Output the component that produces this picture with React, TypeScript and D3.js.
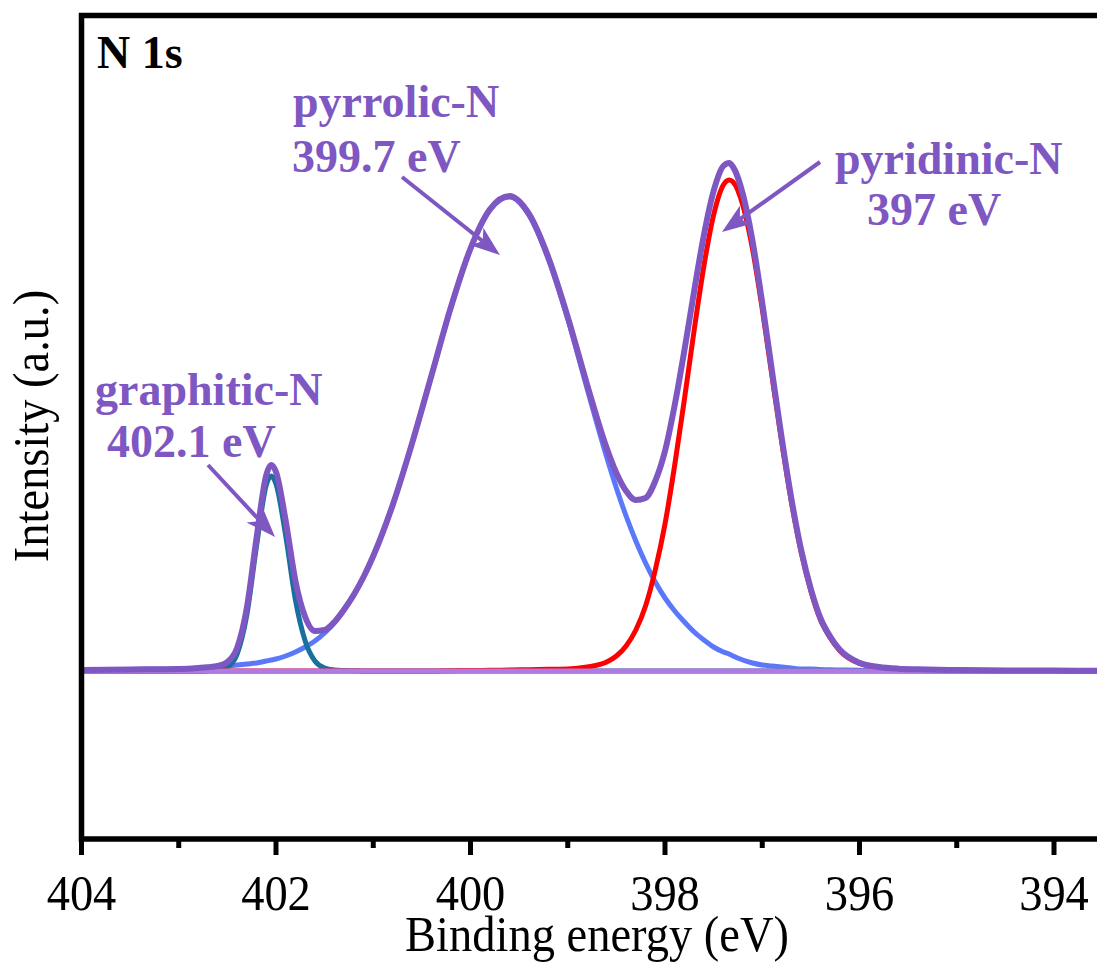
import React from 'react';
import * as d3 from 'd3';

// Binding energy grid (eV)
const energy = [
  404.0, 403.5, 403.0, 402.8, 402.7, 402.6, 402.5, 402.4, 402.3, 402.2, 402.1, 402.05, 402.0,
  401.9, 401.8, 401.7, 401.6, 401.5, 401.4, 401.3, 401.2, 401.1, 401.0, 400.8, 400.6, 400.4,
  400.2, 400.0, 399.8, 399.6, 399.4, 399.2, 399.0, 398.8, 398.6, 398.5, 398.4, 398.3, 398.2,
  398.1, 398.0, 397.9, 397.8, 397.7, 397.6, 397.5, 397.4, 397.34, 397.3, 397.2, 397.1, 397.0,
  396.9, 396.8, 396.7, 396.6, 396.5, 396.4, 396.3, 396.2, 396.0, 395.8, 395.6, 395.4, 395.0,
  394.5, 394.0, 393.5,
];

// Fitted components (a.u.)
const graphiticN = [
  0, 0, 0, 0, 0.3, 1, 4, 17, 56, 125, 186, 195, 187,
  135, 71, 30, 10, 3, 1, 0.5, 0.3, 0, 0, 0, 0, 0,
  0, 0, 0, 0, 0, 0, 0, 0, 0, 0, 0, 0, 0,
  0, 0, 0, 0, 0, 0, 0, 0, 0, 0, 0, 0, 0,
  0, 0, 0, 0, 0, 0, 0, 0, 0, 0, 0, 0, 0,
  0, 0, 0,
];
const pyrrolicN = [
  1, 1.5, 2, 3, 3.5, 4, 5, 6, 7, 8, 10, 11, 12,
  15, 19, 24, 30, 38, 48, 61, 76, 94, 115, 166, 228, 296,
  364, 422, 461, 474, 456, 412, 352, 282, 214, 183, 155, 130, 108,
  89, 73, 60, 49, 39, 31, 24, 19, 17, 15, 11, 8, 6,
  5, 4, 3, 2, 2, 1.5, 1.2, 1, 0.7, 0.5, 0.3, 0.2, 0,
  0, 0, 0,
];
const pyridinicN = [
  0, 0, 0, 0, 0, 0, 0, 0, 0, 0, 0, 0, 0,
  0, 0, 0, 0, 0, 0, 0, 0, 0, 0, 0, 0, 0,
  0.3, 0.5, 0.7, 1, 1.3, 1.7, 2, 4, 9, 15, 25, 41, 65,
  101, 147, 206, 272, 341, 405, 456, 486, 491, 489, 466, 422, 362,
  295, 229, 169, 119, 80, 51, 33, 20, 7.5, 3.5, 2, 1.5, 1,
  0.6, 0.4, 0.3,
];
const envelope = [
  1, 1.5, 2, 3, 3.8, 5, 9, 23, 63, 133, 196, 206, 199,
  150, 90, 54, 40, 41, 49, 61.5, 76.3, 94, 115, 166, 228, 296,
  364.3, 422.5, 461.7, 475, 457.3, 413.7, 354, 286, 223, 198, 180, 171, 173,
  190, 220, 266, 321, 380, 436, 480, 505, 508, 504, 477, 430, 368,
  300, 233, 172, 121, 82, 52.5, 34.2, 21, 8.2, 4, 2.3, 1.7, 1,
  0.6, 0.4, 0.3,
];
const baselineEnergy = [404.0, 393.5];
const baselineValue = [0, 0];

const xMajorTicks = [404, 402, 400, 398, 396, 394];
const xMinorTicks = [403, 401, 399, 397, 395];

const peakLabels = [
  { lines: ['graphitic-N', '402.1 eV'], e: [403.861, 403.738], v: [266, 214] },
  { lines: ['pyrrolic-N', '399.7 eV'], e: [401.825, 401.835], v: [554, 499] },
  { lines: ['pyridinic-N', '397 eV'], e: [396.252, 395.923], v: [497, 446] },
];
const arrows = [
  { from: [402.699, 206], to: [402.01, 134] },
  { from: [400.704, 494], to: [399.697, 416] },
  { from: [396.406, 509], to: [397.414, 439] },
];

const W = 1097;
const H = 969;
const left = 81.5;
const top = 15.5;
const bottom = 839;
const right = 1102;

const PURPLE = '#7E57C2';
const BASE = '#B07AE0';
const BLUE = '#5B78FA';
const TEAL = '#17709E';
const RED = '#FF0000';
const SERIF = '"Liberation Serif", "Times New Roman", Times, serif';

function T(props: {
  x: number;
  y: number;
  size: number;
  children: React.ReactNode;
  anchor?: string;
  bold?: boolean;
  fill?: string;
  rotate?: number;
  sx?: number;
}) {
  const { x, y, size, children, anchor = 'start', bold = false, fill = '#000', rotate = 0, sx = 1 } = props;
  return (
    <text
      transform={`translate(${x},${y})${rotate ? ` rotate(${rotate})` : ''} scale(${sx},1)`}
      textAnchor={anchor}
      fontFamily={SERIF}
      fontWeight={bold ? 'bold' : 'normal'}
      fontSize={size}
      fill={fill}
    >
      {children}
    </text>
  );
}

export default function App() {
  const x = d3.scaleLinear().domain([404, 393.5]).range([left, left + 10.5 * 97.25]);
  const y = d3.scaleLinear().domain([-168, 655]).range([bottom, top + 0.5]);

  const line = d3
    .line<[number, number]>()
    .x((d) => x(d[0]))
    .y((d) => y(d[1]))
    .curve(d3.curveMonotoneX);

  const series = (vals: number[]) => energy.map((e, i) => [e, vals[i]] as [number, number]);
  const basePts = baselineEnergy.map((e, i) => [e, baselineValue[i]] as [number, number]);

  const arrowHead = (fx: number, fy: number, tx: number, ty: number) => {
    const ang = Math.atan2(ty - fy, tx - fx);
    const L = 30;
    const Wd = 11;
    const notch = 22;
    const ux = Math.cos(ang);
    const uy = Math.sin(ang);
    const px = -uy;
    const py = ux;
    const bx = tx - ux * L;
    const by = ty - uy * L;
    const nx = tx - ux * notch;
    const ny = ty - uy * notch;
    return {
      poly: `${tx},${ty} ${bx + px * Wd},${by + py * Wd} ${nx},${ny} ${bx - px * Wd},${by - py * Wd}`,
      lx: nx,
      ly: ny,
    };
  };

  return (
    <svg
      width={W}
      height={H}
      style={{ position: 'absolute', left: 0, top: 0, display: 'block', background: '#fff' }}
    >
      <defs>
        <clipPath id="plotClip">
          <rect x={left} y={top} width={right - left} height={bottom - top} />
        </clipPath>
      </defs>

      <g clipPath="url(#plotClip)" fill="none" strokeLinejoin="round" strokeLinecap="round">
        <path d={line(series(pyrrolicN)) || ''} stroke={BLUE} strokeWidth={5} />
        <path d={line(series(graphiticN)) || ''} stroke={TEAL} strokeWidth={5} />
        <path d={line(series(pyridinicN)) || ''} stroke={RED} strokeWidth={5} />
        <path d={line(basePts) || ''} stroke={BASE} strokeWidth={5} />
        <path d={line(series(envelope)) || ''} stroke={PURPLE} strokeWidth={6} />
      </g>

      {arrows.map((a, i) => {
        const fx = x(a.from[0]);
        const fy = y(a.from[1]);
        const tx = x(a.to[0]);
        const ty = y(a.to[1]);
        const h = arrowHead(fx, fy, tx, ty);
        return (
          <g key={i}>
            <line x1={fx} y1={fy} x2={h.lx} y2={h.ly} stroke={PURPLE} strokeWidth={4} />
            <polygon points={h.poly} fill={PURPLE} />
          </g>
        );
      })}

      {peakLabels.map((p, i) => (
        <g key={i}>
          {p.lines.map((t, j) => (
            <T key={j} x={x(p.e[j])} y={y(p.v[j])} size={46} bold fill={PURPLE}>
              {t}
            </T>
          ))}
        </g>
      ))}

      <T x={97} y={68} size={46} bold>
        N 1s
      </T>

      <rect
        x={left}
        y={top}
        width={right - left}
        height={bottom - top}
        fill="none"
        stroke="#000"
        strokeWidth={5.5}
      />

      {xMajorTicks.map((t) => (
        <line key={'M' + t} x1={x(t)} x2={x(t)} y1={bottom} y2={bottom + 16} stroke="#000" strokeWidth={5} />
      ))}
      {xMinorTicks.map((t) => (
        <line key={'m' + t} x1={x(t)} x2={x(t)} y1={bottom} y2={bottom + 9} stroke="#000" strokeWidth={5} />
      ))}
      {xMajorTicks.map((t) => (
        <T key={'L' + t} x={x(t)} y={910} size={50} anchor="middle" sx={0.93}>
          {t}
        </T>
      ))}

      <T x={597} y={951} size={50} anchor="middle" sx={0.93}>
        Binding energy (eV)
      </T>
      <T x={48} y={426} size={50} anchor="middle" rotate={-90} sx={0.93}>
        Intensity (a.u.)
      </T>
    </svg>
  );
}
